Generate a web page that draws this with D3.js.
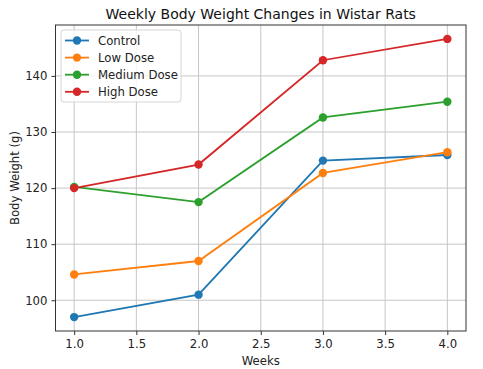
<!DOCTYPE html>
<html><head><meta charset="utf-8">
<script src="https://cdn.jsdelivr.net/npm/d3@7"></script>
<style>body{margin:0;background:#fff}svg{display:block;font-family:"DejaVu Sans",sans-serif}</style>
</head><body><svg id="c" width="483" height="369"></svg>
<script>
const weeks = [1, 2, 3, 4];
const seriesNames = ["Control", "Low Dose", "Medium Dose", "High Dose"];
const control = [97.0, 101.0, 124.9, 125.9];
const lowDose = [104.6, 107.0, 122.7, 126.4];
const mediumDose = [120.2, 117.5, 132.6, 135.4];
const highDose = [120.0, 124.2, 142.8, 146.6];
const colors = ["#1f77b4", "#ff7f0e", "#2ca02c", "#d62728"];
const xTicks = [1.0, 1.5, 2.0, 2.5, 3.0, 3.5, 4.0];
const yTicks = [100, 110, 120, 130, 140];

const series = [control, lowDose, mediumDose, highDose].map((v, i) => ({name: seriesNames[i], values: v, color: colors[i]}));

const svg = d3.select("#c");
const L = 55.5, R = 466, T = 25, B = 331;
const FS = 11.7;
const allV = series.flatMap(s => s.values);
const yMin = d3.min(allV), yMax = d3.max(allV), yPad = (yMax - yMin) * 0.05;
const x = d3.scaleLinear().domain([0.85, 4.15]).range([L, R]);
const y = d3.scaleLinear().domain([yMin - yPad, yMax + yPad]).range([B, T]);

// grid
const g = svg.append("g");
g.selectAll(".vx").data(xTicks).join("line").attr("x1", d => x(d)).attr("x2", d => x(d)).attr("y1", T).attr("y2", B).attr("stroke", "#c6c6c6").attr("stroke-width", 1);
g.selectAll(".hy").data(yTicks).join("line").attr("x1", L).attr("x2", R).attr("y1", d => y(d)).attr("y2", d => y(d)).attr("stroke", "#c6c6c6").attr("stroke-width", 1);

// axes
const xa = svg.append("g").attr("transform", `translate(0,${B})`).call(d3.axisBottom(x).tickValues(xTicks).tickFormat(d3.format(".1f")).tickSize(4).tickPadding(5));
const ya = svg.append("g").attr("transform", `translate(${L},0)`).call(d3.axisLeft(y).tickValues(yTicks).tickSize(4).tickPadding(4));
[xa, ya].forEach(a => { a.select(".domain").remove(); a.selectAll("text").attr("font-size", FS).attr("fill", "#222").attr("font-family", "DejaVu Sans"); a.selectAll("line").attr("stroke", "#333"); });

// lines
const line = d3.line().x((d, i) => x(weeks[i])).y(d => y(d));
series.forEach(s => {
  svg.append("path").datum(s.values).attr("d", line).attr("fill", "none").attr("stroke", s.color).attr("stroke-width", 1.8);
  svg.selectAll(null).data(s.values).join("circle").attr("cx", (d, i) => x(weeks[i])).attr("cy", d => y(d)).attr("r", 4.2).attr("fill", s.color);
});

// frame
svg.append("rect").attr("x", L).attr("y", T).attr("width", R - L).attr("height", B - T).attr("fill", "none").attr("stroke", "#333").attr("stroke-width", 1);

// titles
svg.append("text").attr("x", (L + R) / 2).attr("y", 19).attr("text-anchor", "middle").attr("font-size", 14).attr("fill", "#111").text("Weekly Body Weight Changes in Wistar Rats");
svg.append("text").attr("x", (L + R) / 2).attr("y", 364.5).attr("text-anchor", "middle").attr("font-size", FS).attr("fill", "#222").text("Weeks");
svg.append("text").attr("transform", `translate(18.5,${(T + B) / 2}) rotate(-90)`).attr("text-anchor", "middle").attr("font-size", FS).attr("fill", "#222").text("Body Weight (g)");

// legend
const lg = svg.append("g");
lg.append("rect").attr("x", 61).attr("y", 30).attr("width", 120).attr("height", 72).attr("rx", 3).attr("fill", "#fff").attr("fill-opacity", 0.8).attr("stroke", "#d6d6d6");
series.forEach((s, i) => {
  const yy = 40.5 + i * 17.1;
  lg.append("line").attr("x1", 65).attr("x2", 89).attr("y1", yy).attr("y2", yy).attr("stroke", s.color).attr("stroke-width", 1.8);
  lg.append("circle").attr("cx", 77).attr("cy", yy).attr("r", 4.2).attr("fill", s.color);
  lg.append("text").attr("x", 98).attr("y", yy + 4.2).attr("font-size", FS).attr("fill", "#222").text(s.name);
});
</script></body></html>
